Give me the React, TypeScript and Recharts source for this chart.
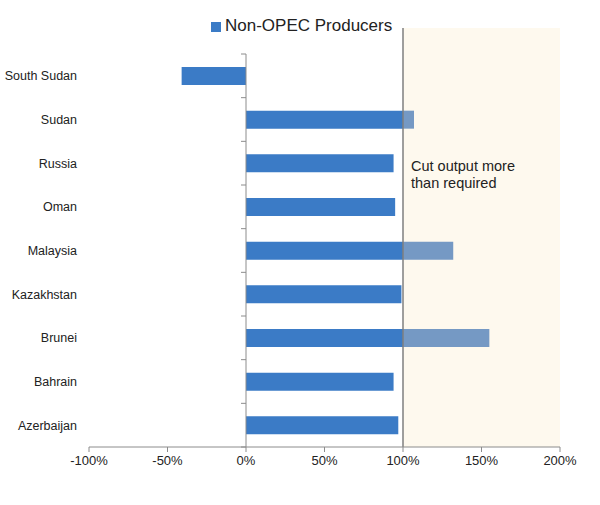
import React from "react";
import {
  BarChart,
  Bar,
  XAxis,
  YAxis,
  Legend,
  ReferenceArea,
  ReferenceLine,
} from "recharts";

// countries, top to bottom as drawn
const countries = [
  "South Sudan",
  "Sudan",
  "Russia",
  "Oman",
  "Malaysia",
  "Kazakhstan",
  "Brunei",
  "Bahrain",
  "Azerbaijan",
];

// compliance with agreed cut, in %
const compliance = [-41, 107, 94, 95, 132, 99, 155, 94, 97];

const xTicks = [-100, -50, 0, 50, 100, 150, 200];

const TARGET = 100;
const BLUE = "#3b7bc6";
const BLUE_OVER = "#7599c4";
const SHADE = "#fef9ee";
const AXIS = "#8c8c8c";
const TEXT = "#222";
// shade and 100% line reach up past the first category
const EXTEND = 26;

// split each bar at 100% so the excess can be drawn lighter
const data = countries.map((name, i) => {
  const v = compliance[i];
  return {
    name,
    within: v > TARGET ? TARGET : v,
    over: v > TARGET ? v - TARGET : 0,
  };
});

const ZeroAxis = (props: any) => {
  const { x1, y1, y2 } = props;
  const top = Math.min(y1, y2);
  const bottom = Math.max(y1, y2);
  const step = (bottom - top) / countries.length;
  const ticks = [];
  for (let i = 0; i <= countries.length; i++) {
    const y = top + i * step;
    ticks.push(
      <line key={i} x1={x1 - 5} x2={x1} y1={y} y2={y} stroke={AXIS} />
    );
  }
  return (
    <g>
      <line x1={x1} x2={x1} y1={top} y2={bottom} stroke={AXIS} />
      {ticks}
    </g>
  );
};

const TargetLine = (props: any) => {
  const { x1, y1, y2 } = props;
  const top = Math.min(y1, y2);
  const bottom = Math.max(y1, y2);
  return (
    <line
      x1={x1}
      x2={x1}
      y1={top - EXTEND}
      y2={bottom}
      stroke="#7f7f7f"
      strokeWidth={1.5}
    />
  );
};

const ShadeRect = (props: any) => {
  const { x, y, width, height } = props;
  return (
    <rect
      x={x}
      y={y - EXTEND}
      width={width}
      height={height + EXTEND}
      fill={SHADE}
    />
  );
};

const AreaNote = (props: any) => {
  const { viewBox } = props;
  if (!viewBox) return null;
  return (
    <text x={viewBox.x + 8} y={viewBox.y + 117} fill={TEXT} fontSize={14.5}>
      <tspan x={viewBox.x + 8}>Cut output more</tspan>
      <tspan x={viewBox.x + 8} dy={17}>
        than required
      </tspan>
    </text>
  );
};

export default function App() {
  return (
    <div
      style={{
        position: "absolute",
        left: 0,
        top: 0,
        width: 600,
        height: 505,
        background: "#fff",
        fontFamily: "Arial, 'Liberation Sans', sans-serif",
      }}
    >
      <BarChart
        width={600}
        height={505}
        data={data}
        layout="vertical"
        margin={{ top: 30, right: 40, bottom: 28, left: 0 }}
        barSize={18}
      >
        <ReferenceArea
          x1={TARGET}
          x2={200}
          ifOverflow="visible"
          shape={ShadeRect}
          label={<AreaNote />}
        />
        <ReferenceLine x={TARGET} shape={TargetLine} ifOverflow="visible" />
        <XAxis
          type="number"
          domain={[-100, 200]}
          ticks={xTicks}
          tickFormatter={(v) => `${v}%`}
          stroke={AXIS}
          tick={{ fill: TEXT, fontSize: 13 }}
          tickSize={5}
          tickMargin={4}
          height={30}
        />
        <YAxis
          type="category"
          dataKey="name"
          width={89}
          axisLine={false}
          tickLine={false}
          tickSize={0}
          tickMargin={12}
          tick={{ fill: TEXT, fontSize: 12.5 }}
        />
        <ReferenceLine x={0} shape={ZeroAxis} />
        <Legend
          verticalAlign="top"
          align="left"
          iconType="square"
          iconSize={10}
          height={24}
          wrapperStyle={{ top: 16, left: 211, width: "auto", fontSize: 17 }}
          formatter={(value) => <span style={{ color: TEXT }}>{value}</span>}
        />
        <Bar
          dataKey="within"
          name="Non-OPEC Producers"
          stackId="a"
          fill={BLUE}
          isAnimationActive={false}
        />
        <Bar
          dataKey="over"
          stackId="a"
          fill={BLUE_OVER}
          legendType="none"
          isAnimationActive={false}
        />
      </BarChart>
    </div>
  );
}
